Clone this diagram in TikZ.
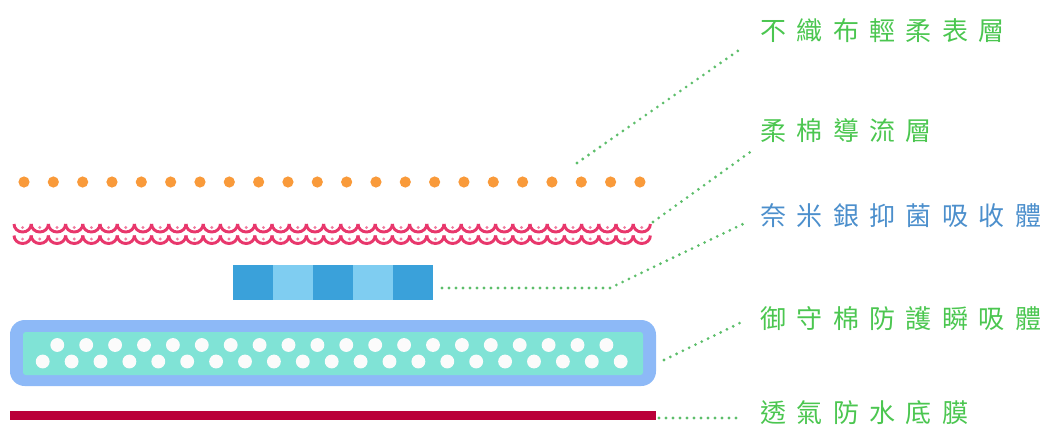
\documentclass[tikz,border=0pt]{standalone}
\usepackage{fontspec}
\usepackage{tikz}
\usetikzlibrary{calc}
\newfontfamily\cjk[LetterSpace=40]{Noto Sans CJK TC}
\definecolor{dotor}{RGB}{249,154,58}
\definecolor{wave}{RGB}{232,55,108}
\definecolor{wavedot}{RGB}{240,125,160}
\definecolor{agdark}{RGB}{58,161,218}
\definecolor{aglight}{RGB}{127,205,241}
\definecolor{coreout}{RGB}{141,185,247}
\definecolor{corein}{RGB}{128,227,214}
\definecolor{film}{RGB}{186,0,57}
\definecolor{lblgreen}{RGB}{75,198,80}
\definecolor{lblblue}{RGB}{76,143,204}
\definecolor{lead}{RGB}{93,190,107}
\tikzset{
  lbl/.style={anchor=west,inner sep=0pt,font=\cjk\fontsize{19.5pt}{20pt}\selectfont,text=lblgreen},
  leader/.style={draw=lead,line width=2.3pt,line cap=round,dash pattern=on 0pt off 5.25pt},
  scallop/.style={draw=wave,line width=2.2pt},
  bubble/.style={fill=white!97!gray}
}

\begin{document}
\begin{tikzpicture}[x=0.75pt,y=-0.75pt]
\useasboundingbox (0,0) rectangle (1052,429);
% top sheet dots
\foreach \i in {0,...,21}
  \fill[dotor] (24+29.33*\i,182) circle (4.2pt);
% soft cotton scallops, two rows
\foreach \i in {0,...,36} {
  \draw[scallop] (14+17.2*\i,224) arc[start angle=180,end angle=360,x radius=6.45pt,y radius=6pt];
  \draw[scallop] (14+17.2*\i,235.5) arc[start angle=180,end angle=360,x radius=6.45pt,y radius=6pt];
  \fill[wavedot] (22.6+17.2*\i,227.5) circle (1.2pt);
  \fill[wavedot] (22.6+17.2*\i,239) circle (1.2pt);
}
% silver blocks
\foreach \i/\c in {0/agdark,1/aglight,2/agdark,3/aglight,4/agdark}
  \fill[\c] (233+40*\i,265) rectangle (273+40*\i,300);
% absorbent core
\fill[coreout,rounded corners=11pt] (10,320) rectangle (656,386);
\fill[corein,rounded corners=2pt] (23,332) rectangle (643,375);
\foreach \i in {0,...,19}
  \fill[bubble] (57.3+28.9*\i,345) circle (5.2pt);
\foreach \i in {0,...,20}
  \fill[bubble] (42.7+28.9*\i,361.5) circle (5.2pt);
% back film
\fill[film] (10,411) rectangle (656,420);
% labels
\node[lbl] (lab-top) at (760,31) {不織布輕柔表層};
\node[lbl] (lab-flow) at (760,131) {柔棉導流層};
\node[lbl,text=lblblue] (lab-silver) at (760,216) {奈米銀抑菌吸收體};
\node[lbl] (lab-core) at (760,319) {御守棉防護瞬吸體};
\node[lbl] (lab-film) at (760,413) {透氣防水底膜};
% leader ends
\coordinate (top-a) at (577,163);
\coordinate (top-b) at (742,48);
\coordinate (flow-a) at (653,222);
\coordinate (flow-b) at (753,150);
\coordinate (ag-a) at (442,288);
\coordinate (ag-k) at (610,288);
\coordinate (ag-b) at (743,224);
\coordinate (core-a) at (664,360);
\coordinate (core-b) at (744,321);
\coordinate (film-a) at (659,418);
\coordinate (film-b) at (739,418);
\draw[leader] (top-a) -- (top-b);
\draw[leader] (flow-a) -- (flow-b);
\draw[leader] (ag-a) -- (ag-k) -- (ag-b);
\draw[leader] (core-a) -- (core-b);
\draw[leader] (film-a) -- (film-b);
\end{tikzpicture}
\end{document}
